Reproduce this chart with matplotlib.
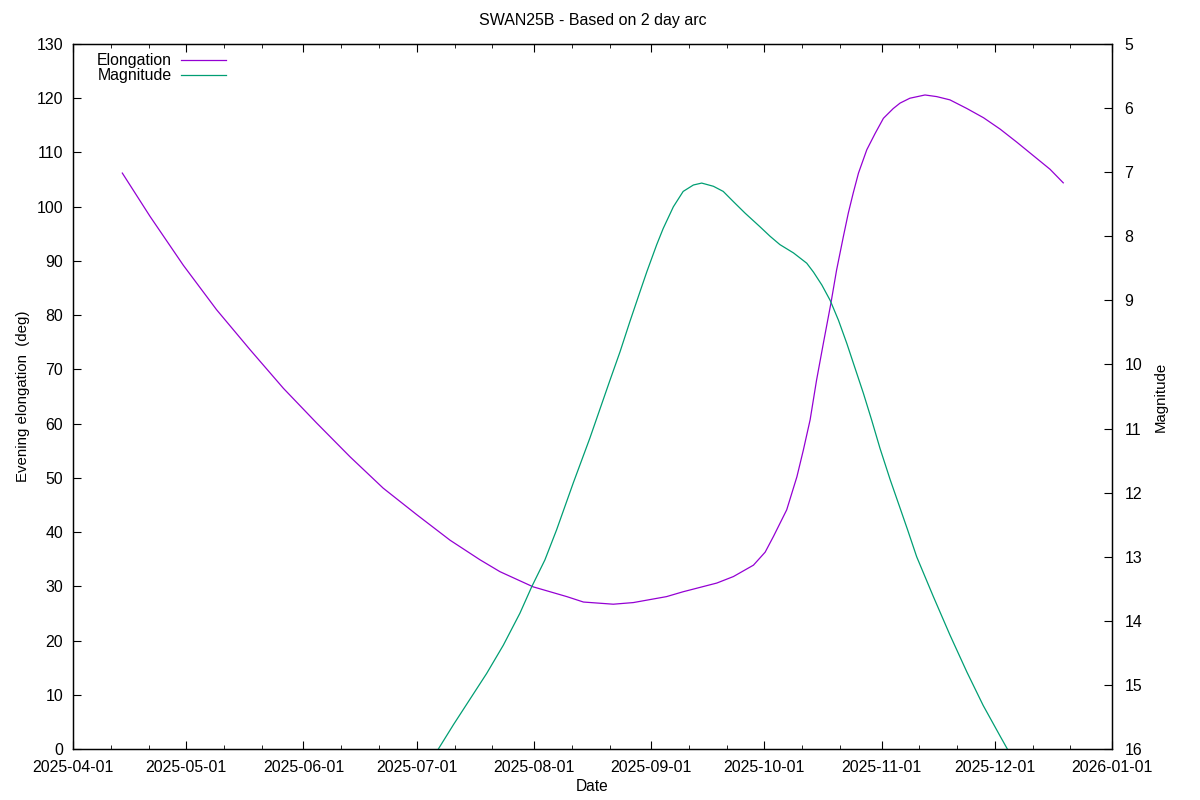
import pandas as pd
import matplotlib
matplotlib.use('Agg')
import matplotlib.pyplot as plt
import matplotlib.dates as mdates

plt.rcParams['font.family'] = ['Liberation Sans', 'DejaVu Sans']
plt.rcParams['font.size'] = 11.4

start = pd.Timestamp('2025-04-01')

# evening elongation (deg) vs days after 2025-04-01
elong_day = [13.05, 20.4, 29.2, 38.0, 46.9, 55.7, 64.5, 73.3, 82.1, 91.0,
             99.8, 107.7, 113.0, 121.8, 130.7, 135.1, 143.0, 148.3, 157.1, 161.5,
             170.4, 174.8, 180.1, 183.2, 185.4, 188.9, 191.6, 193.3, 195.1, 196.8,
             198.6, 200.6, 202.1, 203.9, 205.2, 206.5, 207.9, 210.1, 212.3, 214.5,
             217.1, 218.9, 221.5, 225.5, 228.6, 232.1, 236.6, 241.0, 245.4, 249.8,
             254.2, 258.6, 262.1]
elong_vals = [106.2, 98.2, 89.2, 81.0, 73.6, 66.5, 60.1, 53.9, 48.1, 43.2,
              38.5, 34.9, 32.7, 29.9, 28.1, 27.1, 26.7, 27.0, 28.1, 29.0,
              30.6, 31.8, 33.9, 36.3, 39.2, 44.1, 50.2, 55.1, 60.7, 68.0,
              74.8, 82.2, 88.3, 94.5, 98.8, 102.5, 106.2, 110.5, 113.5, 116.3,
              118.1, 119.1, 120.0, 120.6, 120.3, 119.7, 118.1, 116.4, 114.3, 111.9,
              109.4, 106.9, 104.4]

# magnitude vs days after 2025-04-01
mag_day = [96.7, 100.7, 105.1, 109.5, 113.9, 118.3, 121.4, 124.9, 128.0, 132.4,
           136.8, 142.1, 144.8, 147.4, 150.1, 151.9, 154.5, 156.2, 158.9, 161.5,
           164.2, 166.4, 169.5, 172.1, 174.8, 177.9, 181.8, 184.5, 187.1, 190.7,
           194.2, 196.0, 198.2, 200.4, 202.6, 204.8, 207.0, 209.2, 211.4, 213.6,
           216.3, 218.9, 220.9, 223.3, 227.7, 232.1, 236.6, 240.9, 245.4, 247.3]
mag_vals = [16.0, 15.62, 15.22, 14.82, 14.38, 13.88, 13.47, 13.05, 12.58, 11.85,
            11.15, 10.25, 9.80, 9.33, 8.86, 8.55, 8.13, 7.88, 7.54, 7.30,
            7.20, 7.17, 7.22, 7.30, 7.46, 7.64, 7.85, 8.00, 8.13, 8.26,
            8.42, 8.56, 8.76, 9.00, 9.31, 9.67, 10.06, 10.45, 10.87, 11.31,
            11.80, 12.24, 12.58, 13.00, 13.62, 14.22, 14.80, 15.32, 15.80, 16.0]

elong_d = start + pd.to_timedelta(elong_day, unit='D')
mag_d = start + pd.to_timedelta(mag_day, unit='D')

fig = plt.figure(figsize=(12, 8), dpi=100)
ax1 = fig.add_axes([73/1200, 1 - 749/800, (1112-73)/1200, (749-44)/800])
ax2 = ax1.twinx()

l1, = ax1.plot(elong_d, elong_vals, color='#9400D3', lw=0.9, label='Elongation')
l2, = ax2.plot(mag_d, mag_vals, color='#009E73', lw=0.9, label='Magnitude')

ax1.set_xlim(start, pd.Timestamp('2026-01-01'))
ax1.set_ylim(0, 130)
ax1.set_yticks(range(0, 131, 10))
ax2.set_ylim(16, 5)
ax2.set_yticks(range(5, 17))

ax1.xaxis.set_major_locator(mdates.MonthLocator())
ax1.xaxis.set_major_formatter(mdates.DateFormatter('%Y-%m-%d'))
ax1.xaxis.set_minor_locator(mdates.DayLocator(bymonthday=[11, 21]))

ax1.tick_params(axis='x', which='major', direction='in', top=True, length=6, pad=8)
ax1.tick_params(axis='x', which='minor', direction='in', top=True, length=3)
ax1.tick_params(axis='y', which='major', direction='in', right=False, length=6, pad=7)
ax2.tick_params(axis='y', direction='in', length=6, pad=9)

for a in (ax1, ax2):
    for s in a.spines.values():
        s.set_linewidth(0.9)

ax1.set_xlabel('Date', fontsize=11.2, labelpad=3)
ax1.set_ylabel('Evening elongation  (deg)', fontsize=10.8, labelpad=5)
ax2.set_ylabel('Magnitude', fontsize=10.8, rotation=90, labelpad=8)
ax1.set_title('SWAN25B - Based on 2 day arc', fontsize=11.5, pad=14)

ax1.legend([l1, l2], ['Elongation', 'Magnitude'], loc='upper left',
           bbox_to_anchor=(0.014, 1.0), frameon=False, markerfirst=False,
           handlelength=2.85, handletextpad=0.55, labelspacing=0.0,
           borderaxespad=0.2, fontsize=11.4)

fig.savefig('out.png', dpi=100)
